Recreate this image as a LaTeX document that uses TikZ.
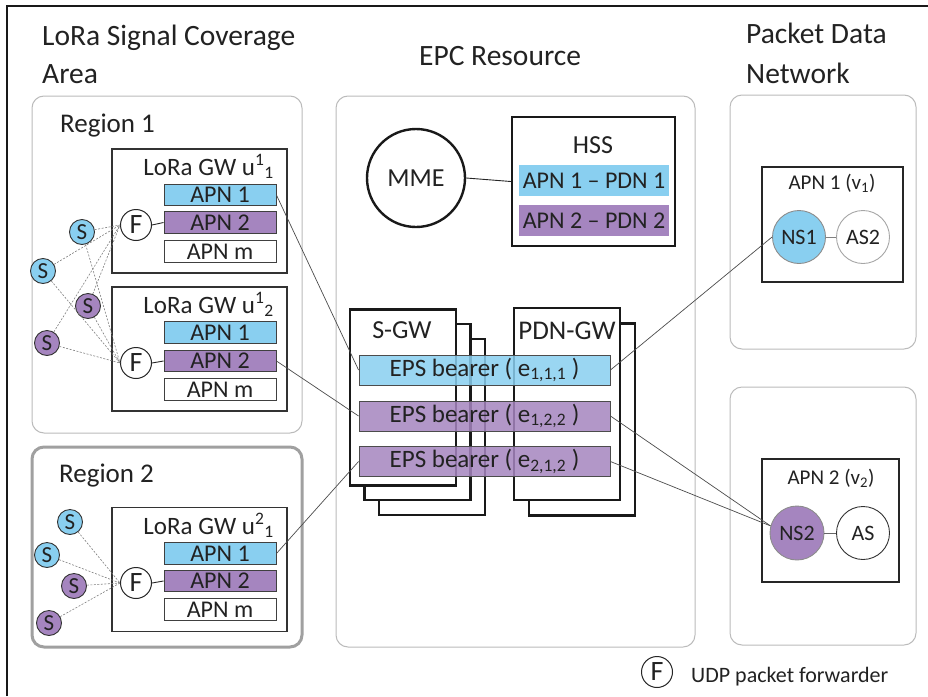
\documentclass[tikz,border=0pt]{standalone}
\usepackage{fontspec}
\setmainfont{Carlito}
\definecolor{lblue}{HTML}{89CFF0}
\definecolor{lpurp}{HTML}{A585BF}
\definecolor{txt}{HTML}{222222}
\definecolor{rgray}{HTML}{BBBBBB}
\definecolor{r2gray}{HTML}{A0A0A0}
\newcommand\fsz[1]{\fontsize{#1}{#1}\selectfont}
\begin{document}
\begin{tikzpicture}[x=1pt,y=-1pt,
  every node/.style={text=txt},
  region/.style={draw=rgray, line width=1pt, rounded corners=12pt},
  gwbox/.style={draw=black!80, line width=1.2pt, fill=white, minimum width=175pt, minimum height=124pt, inner sep=0pt},
  gwtitle/.style={anchor=base east, font=\fsz{25}, inner sep=0pt},
  apnbar/.style={draw=black!75, line width=0.9pt, minimum width=112pt, minimum height=21.5pt, inner sep=0pt, font=\fsz{24}},
  fwd/.style={circle, draw=black!85, line width=1pt, fill=white, minimum size=31pt, inner sep=0pt, font=\fsz{28}},
  sens/.style={circle, draw=black!80, line width=0.9pt, minimum size=25pt, inner sep=0pt, font=\fsz{23}},
  sblue/.style={sens, fill=lblue},
  spurp/.style={sens, fill=lpurp},
  radio/.style={draw=black!50, dashed, dash pattern=on 2pt off 1.5pt, line width=0.6pt},
  link/.style={draw=black!70, line width=0.7pt},
  thickbox/.style={draw=black!90, line width=2.4pt, fill=white, inner sep=0pt},
  gwstack/.style={thickbox, minimum width=106pt, minimum height=176pt},
  pdnstack/.style={thickbox, minimum width=106pt, minimum height=192pt},
  bearer/.style={draw=black!70, line width=0.9pt, minimum width=251pt, minimum height=30pt, inner sep=0pt, font=\fsz{25}, fill opacity=0.85, text opacity=1},
  hssrow/.style={minimum width=150pt, minimum height=31pt, inner sep=0pt, font=\fsz{24}},
  srv/.style={circle, line width=0.9pt, minimum size=53pt, inner sep=0pt, font=\fsz{22}},
  apnbox/.style={draw=black!85, line width=1.2pt, inner sep=0pt}
]
\useasboundingbox (0,0) rectangle (928,696);
\fill[white] (0,0) rectangle (928,696);
% frame
\draw[line width=1.5pt, black!90] (7,696) -- (7,6) -- (928,6);

% headings
\node[anchor=base west, font=\fsz{29.5}, inner sep=0pt] (h1a) at (42,45) {LoRa Signal Coverage};
\node[anchor=base west, font=\fsz{29.5}, inner sep=0pt] (h1b) at (42,83) {Area};
\node[anchor=base west, font=\fsz{29.5}, inner sep=0pt] (h2) at (419,65) {EPC Resource};
\node[anchor=base west, font=\fsz{29.5}, inner sep=0pt] (h3a) at (746,43) {Packet Data};
\node[anchor=base west, font=\fsz{29.5}, inner sep=0pt] (h3b) at (746,83) {Network};

% containers
\draw[region] (32,96) rectangle (302,433);
\draw[region, draw=r2gray, line width=3pt] (32,447) rectangle (302,647);
\draw[region] (336,96) rectangle (695,647);
\draw[region] (730,95) rectangle (916,349);
\draw[region] (730,387) rectangle (916,645);

\node[anchor=base west, font=\fsz{27}, inner sep=0pt] (reg1) at (60,132) {Region 1};
\node[anchor=base west, font=\fsz{27}, inner sep=0pt] (reg2) at (59,482) {Region 2};

% gateways
\node[gwbox] (gw1) at (199.5,211) {};
\node[gwtitle] (gw1t) at (274,175) {LoRa GW u\textsuperscript{1}\textsubscript{1}};
\node[apnbar, fill=lblue] (g1a1) at (220,195) {APN 1};
\node[apnbar, fill=lpurp] (g1a2) at (220,222.5) {APN 2};
\node[apnbar, fill=white] (g1am) at (220,251.5) {APN m};
\node[fwd] (f1) at (136,225) {F};

\node[gwbox] (gw2) at (199.5,349) {};
\node[gwtitle] (gw2t) at (274,313) {LoRa GW u\textsuperscript{1}\textsubscript{2}};
\node[apnbar, fill=lblue] (g2a1) at (220,332.5) {APN 1};
\node[apnbar, fill=lpurp] (g2a2) at (220,361) {APN 2};
\node[apnbar, fill=white] (g2am) at (220,389.5) {APN m};
\node[fwd] (f2) at (136,363) {F};

\node[gwbox] (gw3) at (199.5,569.5) {};
\node[gwtitle] (gw3t) at (274,534) {LoRa GW u\textsuperscript{2}\textsubscript{1}};
\node[apnbar, fill=lblue] (g3a1) at (220,553.5) {APN 1};
\node[apnbar, fill=lpurp] (g3a2) at (220,581) {APN 2};
\node[apnbar, fill=white] (g3am) at (220,609.5) {APN m};
\node[fwd] (f3) at (136,583) {F};

\draw[link, line width=0.9pt, black!85] (f1.east) -- (g1a2.west);
\draw[link, line width=0.9pt, black!85] (f2.east) -- (g2a2.west);
\draw[link, line width=0.9pt, black!85] (f3.east) -- (g3a2.west);

% sensors region 1
\node[sblue] (s1) at (82,232) {S};
\node[sblue] (s2) at (43,271) {S};
\node[spurp] (s3) at (88,306) {S};
\node[spurp] (s4) at (47,343) {S};
\foreach \s in {s1,s2,s3,s4} {
  \draw[radio] (\s) -- (f1.west);
  \draw[radio] (\s) -- (f2.west);
}
% sensors region 2
\node[sblue] (t1) at (70,522) {S};
\node[sblue] (t2) at (47,555) {S};
\node[spurp] (t3) at (74,586) {S};
\node[spurp] (t4) at (49,623) {S};
\foreach \s in {t1,t2,t3,t4} {
  \draw[radio] (\s) -- (f3.west);
}

% EPC
\node[circle, draw=black!90, line width=2.4pt, minimum size=98pt, inner sep=0pt, font=\fsz{26}] (mme) at (416,178) {MME};
\node[thickbox, minimum width=163pt, minimum height=129pt] (hss) at (593.5,181.5) {};
\node[anchor=base, font=\fsz{26}, inner sep=0pt] (hsst) at (593,153) {HSS};
\node[hssrow, fill=lblue] (hr1) at (594,180.5) {APN 1 – PDN 1};
\node[hssrow, fill=lpurp] (hr2) at (594,220.5) {APN 2 – PDN 2};
\draw[link, black!85, line width=0.9pt] (mme.east) -- (hss.west);

\node[gwstack] (sg3) at (432,427) {};
\node[gwstack] (sg2) at (417.5,412) {};
\node[gwstack] (sg1) at (403,397.5) {};
\node[anchor=base, font=\fsz{26}, inner sep=0pt] (sgt) at (402,338) {S-GW};
\node[pdnstack] (pg2) at (582,419.5) {};
\node[pdnstack] (pg1) at (567,404) {};
\node[anchor=base, font=\fsz{27}, inner sep=0pt] (pgt) at (567,339) {PDN-GW};

\node[bearer, fill=lblue] (e111) at (484.5,370) {EPS bearer ( e\textsubscript{1,1,1} )};
\node[bearer, fill=lpurp] (e122) at (484.5,416) {EPS bearer ( e\textsubscript{1,2,2} )};
\node[bearer, fill=lpurp] (e212) at (484.5,461.5) {EPS bearer ( e\textsubscript{2,1,2} )};

% PDN
\node[apnbox, minimum width=141pt, minimum height=115pt] (v1) at (832.5,224.5) {};
\node[anchor=base, font=\fsz{21}, inner sep=0pt] (v1t) at (832,189) {APN 1 (v\textsubscript{1})};
\node[srv, draw=black!45, fill=lblue] (ns1) at (799,237) {NS1};
\node[srv, draw=black!35, fill=white] (as2) at (863,237) {AS2};
\draw[draw=black!50, line width=0.9pt] (ns1) -- (as2);

\node[apnbox, minimum width=137pt, minimum height=123pt] (v2) at (830.5,520.5) {};
\node[anchor=base, font=\fsz{21}, inner sep=0pt] (v2t) at (831,484) {APN 2 (v\textsubscript{2})};
\node[srv, draw=black!45, fill=lpurp, minimum size=54pt] (ns2) at (797,533) {NS2};
\node[srv, draw=black!80, fill=white] (as) at (863,533) {AS};
\draw[draw=black!60, line width=0.9pt] (ns2) -- (as);

% bearer links
\draw[link] (g1a1.east) -- (e111.west);
\draw[link] (g2a2.east) -- (e122.west);
\draw[link] (g3a1.east) -- (e212.west);
\draw[link] (e111.east) -- (ns1.west);
\draw[link] (e122.east) -- (ns2.165);
\draw[link] (e212.east) -- (ns2.165);

% legend
\node[fwd] (lf) at (657,672) {F};
\node[anchor=base west, font=\fsz{22}, inner sep=0pt] (lt) at (691,682) {UDP packet forwarder};
\end{tikzpicture}
\end{document}
